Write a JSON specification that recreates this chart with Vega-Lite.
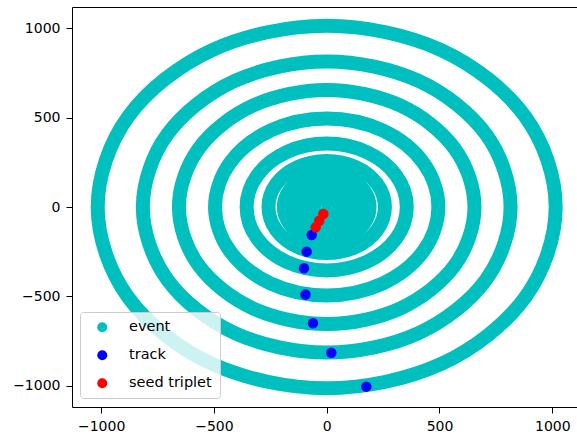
{
  "$schema": "https://vega.github.io/schema/vega-lite/v6.json",
  "width": 505,
  "height": 400,
  "autosize": "none",
  "padding": {"left": 72, "top": 7, "right": 0, "bottom": 34},
  "background": "white",
  "config": {
    "view": {"stroke": null},
    "axis": {
      "grid": false,
      "domainColor": "#000000",
      "domainWidth": 1,
      "tickColor": "#000000",
      "tickSize": 6,
      "labelFont": "DejaVu Sans",
      "labelFontSize": 14,
      "labelColor": "#000000",
      "labelPadding": 6,
      "labelFlush": false,
      "labelOverlap": false
    }
  },
  "datasets": {
    "rings": [
      {"ring": 1, "i": 0, "x": 1015, "y": 0}, {"ring": 1, "i": 1, "x": 879, "y": 507.5}, {"ring": 1, "i": 2, "x": 507.5, "y": 879}, {"ring": 1, "i": 3, "x": 0, "y": 1015}, {"ring": 1, "i": 4, "x": -507.5, "y": 879}, {"ring": 1, "i": 5, "x": -879, "y": 507.5}, {"ring": 1, "i": 6, "x": -1015, "y": 0}, {"ring": 1, "i": 7, "x": -879, "y": -507.5}, {"ring": 1, "i": 8, "x": -507.5, "y": -879}, {"ring": 1, "i": 9, "x": 0, "y": -1015}, {"ring": 1, "i": 10, "x": 507.5, "y": -879}, {"ring": 1, "i": 11, "x": 879, "y": -507.5},
      {"ring": 2, "i": 0, "x": 815, "y": 0}, {"ring": 2, "i": 1, "x": 705.8, "y": 407.5}, {"ring": 2, "i": 2, "x": 407.5, "y": 705.8}, {"ring": 2, "i": 3, "x": 0, "y": 815}, {"ring": 2, "i": 4, "x": -407.5, "y": 705.8}, {"ring": 2, "i": 5, "x": -705.8, "y": 407.5}, {"ring": 2, "i": 6, "x": -815, "y": 0}, {"ring": 2, "i": 7, "x": -705.8, "y": -407.5}, {"ring": 2, "i": 8, "x": -407.5, "y": -705.8}, {"ring": 2, "i": 9, "x": 0, "y": -815}, {"ring": 2, "i": 10, "x": 407.5, "y": -705.8}, {"ring": 2, "i": 11, "x": 705.8, "y": -407.5},
      {"ring": 3, "i": 0, "x": 655, "y": 0}, {"ring": 3, "i": 1, "x": 567.2, "y": 327.5}, {"ring": 3, "i": 2, "x": 327.5, "y": 567.2}, {"ring": 3, "i": 3, "x": 0, "y": 655}, {"ring": 3, "i": 4, "x": -327.5, "y": 567.2}, {"ring": 3, "i": 5, "x": -567.2, "y": 327.5}, {"ring": 3, "i": 6, "x": -655, "y": 0}, {"ring": 3, "i": 7, "x": -567.2, "y": -327.5}, {"ring": 3, "i": 8, "x": -327.5, "y": -567.2}, {"ring": 3, "i": 9, "x": 0, "y": -655}, {"ring": 3, "i": 10, "x": 327.5, "y": -567.2}, {"ring": 3, "i": 11, "x": 567.2, "y": -327.5},
      {"ring": 4, "i": 0, "x": 495, "y": 0}, {"ring": 4, "i": 1, "x": 428.7, "y": 247.5}, {"ring": 4, "i": 2, "x": 247.5, "y": 428.7}, {"ring": 4, "i": 3, "x": 0, "y": 495}, {"ring": 4, "i": 4, "x": -247.5, "y": 428.7}, {"ring": 4, "i": 5, "x": -428.7, "y": 247.5}, {"ring": 4, "i": 6, "x": -495, "y": 0}, {"ring": 4, "i": 7, "x": -428.7, "y": -247.5}, {"ring": 4, "i": 8, "x": -247.5, "y": -428.7}, {"ring": 4, "i": 9, "x": 0, "y": -495}, {"ring": 4, "i": 10, "x": 247.5, "y": -428.7}, {"ring": 4, "i": 11, "x": 428.7, "y": -247.5},
      {"ring": 5, "i": 0, "x": 355, "y": 0}, {"ring": 5, "i": 1, "x": 307.4, "y": 177.5}, {"ring": 5, "i": 2, "x": 177.5, "y": 307.4}, {"ring": 5, "i": 3, "x": 0, "y": 355}, {"ring": 5, "i": 4, "x": -177.5, "y": 307.4}, {"ring": 5, "i": 5, "x": -307.4, "y": 177.5}, {"ring": 5, "i": 6, "x": -355, "y": 0}, {"ring": 5, "i": 7, "x": -307.4, "y": -177.5}, {"ring": 5, "i": 8, "x": -177.5, "y": -307.4}, {"ring": 5, "i": 9, "x": 0, "y": -355}, {"ring": 5, "i": 10, "x": 177.5, "y": -307.4}, {"ring": 5, "i": 11, "x": 307.4, "y": -177.5},
      {"ring": 6, "i": 0, "x": 258, "y": 0}, {"ring": 6, "i": 1, "x": 223.4, "y": 129}, {"ring": 6, "i": 2, "x": 129, "y": 223.4}, {"ring": 6, "i": 3, "x": 0, "y": 258}, {"ring": 6, "i": 4, "x": -129, "y": 223.4}, {"ring": 6, "i": 5, "x": -223.4, "y": 129}, {"ring": 6, "i": 6, "x": -258, "y": 0}, {"ring": 6, "i": 7, "x": -223.4, "y": -129}, {"ring": 6, "i": 8, "x": -129, "y": -223.4}, {"ring": 6, "i": 9, "x": 0, "y": -258}, {"ring": 6, "i": 10, "x": 129, "y": -223.4}, {"ring": 6, "i": 11, "x": 223.4, "y": -129},
      {"ring": 7, "i": 0, "x": 190, "y": 0}, {"ring": 7, "i": 1, "x": 164.5, "y": 95}, {"ring": 7, "i": 2, "x": 95, "y": 164.5}, {"ring": 7, "i": 3, "x": 0, "y": 190}, {"ring": 7, "i": 4, "x": -95, "y": 164.5}, {"ring": 7, "i": 5, "x": -164.5, "y": 95}, {"ring": 7, "i": 6, "x": -190, "y": 0}, {"ring": 7, "i": 7, "x": -164.5, "y": -95}, {"ring": 7, "i": 8, "x": -95, "y": -164.5}, {"ring": 7, "i": 9, "x": 0, "y": -190}, {"ring": 7, "i": 10, "x": 95, "y": -164.5}, {"ring": 7, "i": 11, "x": 164.5, "y": -95},
      {"ring": 8, "i": 0, "x": 140, "y": 0}, {"ring": 8, "i": 1, "x": 121.2, "y": 70}, {"ring": 8, "i": 2, "x": 70, "y": 121.2}, {"ring": 8, "i": 3, "x": 0, "y": 140}, {"ring": 8, "i": 4, "x": -70, "y": 121.2}, {"ring": 8, "i": 5, "x": -121.2, "y": 70}, {"ring": 8, "i": 6, "x": -140, "y": 0}, {"ring": 8, "i": 7, "x": -121.2, "y": -70}, {"ring": 8, "i": 8, "x": -70, "y": -121.2}, {"ring": 8, "i": 9, "x": 0, "y": -140}, {"ring": 8, "i": 10, "x": 70, "y": -121.2}, {"ring": 8, "i": 11, "x": 121.2, "y": -70},
      {"ring": 9, "i": 0, "x": 95, "y": 0}, {"ring": 9, "i": 1, "x": 82.3, "y": 47.5}, {"ring": 9, "i": 2, "x": 47.5, "y": 82.3}, {"ring": 9, "i": 3, "x": 0, "y": 95}, {"ring": 9, "i": 4, "x": -47.5, "y": 82.3}, {"ring": 9, "i": 5, "x": -82.3, "y": 47.5}, {"ring": 9, "i": 6, "x": -95, "y": 0}, {"ring": 9, "i": 7, "x": -82.3, "y": -47.5}, {"ring": 9, "i": 8, "x": -47.5, "y": -82.3}, {"ring": 9, "i": 9, "x": 0, "y": -95}, {"ring": 9, "i": 10, "x": 47.5, "y": -82.3}, {"ring": 9, "i": 11, "x": 82.3, "y": -47.5},
      {"ring": 10, "i": 0, "x": 55, "y": 0}, {"ring": 10, "i": 1, "x": 47.6, "y": 27.5}, {"ring": 10, "i": 2, "x": 27.5, "y": 47.6}, {"ring": 10, "i": 3, "x": 0, "y": 55}, {"ring": 10, "i": 4, "x": -27.5, "y": 47.6}, {"ring": 10, "i": 5, "x": -47.6, "y": 27.5}, {"ring": 10, "i": 6, "x": -55, "y": 0}, {"ring": 10, "i": 7, "x": -47.6, "y": -27.5}, {"ring": 10, "i": 8, "x": -27.5, "y": -47.6}, {"ring": 10, "i": 9, "x": 0, "y": -55}, {"ring": 10, "i": 10, "x": 27.5, "y": -47.6}, {"ring": 10, "i": 11, "x": 47.6, "y": -27.5}
    ],
    "hits": [
      {"kind": "event", "x": 0, "y": 0},
      {"kind": "track", "x": -66.5, "y": -156.8},
      {"kind": "track", "x": -88.7, "y": -250},
      {"kind": "track", "x": -100.6, "y": -343},
      {"kind": "track", "x": -94, "y": -490},
      {"kind": "track", "x": -60.7, "y": -651},
      {"kind": "track", "x": 20.4, "y": -816},
      {"kind": "track", "x": 175.5, "y": -1006},
      {"kind": "seed triplet", "x": -49, "y": -114},
      {"kind": "seed triplet", "x": -33, "y": -77},
      {"kind": "seed triplet", "x": -15, "y": -39}
    ]
  },
  "layer": [
    {
      "data": {"name": "rings"},
      "mark": {"type": "line", "interpolate": "cardinal-closed", "strokeWidth": 14, "strokeJoin": "round", "color": "#00bfbf"},
      "encoding": {
        "x": {"field": "x", "type": "quantitative", "scale": {"domain": [-1129, 1109.5], "nice": false, "zero": false}, "axis": {"title": null, "orient": "bottom", "values": [-1000, -500, 0, 500, 1000], "format": "d"}},
        "y": {"field": "y", "type": "quantitative", "scale": {"domain": [-1120, 1120], "nice": false, "zero": false}, "axis": {"title": null, "orient": "left", "values": [-1000, -500, 0, 500, 1000], "format": "d"}},
        "detail": {"field": "ring", "type": "nominal"},
        "order": {"field": "i", "type": "quantitative"}
      }
    },
    {
      "data": {"name": "hits"},
      "mark": {"type": "circle", "size": 110, "opacity": 1},
      "encoding": {
        "x": {"field": "x", "type": "quantitative", "axis": {"title": null, "orient": "top", "labels": false, "ticks": false, "domain": true}},
        "y": {"field": "y", "type": "quantitative"},
        "color": {
          "field": "kind",
          "type": "nominal",
          "scale": {"domain": ["event", "track", "seed triplet"], "range": ["#00bfbf", "#0000ff", "#ff0000"]},
          "legend": {
            "title": null,
            "orient": "none",
            "legendX": 8,
            "legendY": 305,
            "padding": 8,
            "strokeColor": "#cccccc",
            "fillColor": "rgba(255,255,255,0.8)",
            "cornerRadius": 3,
            "symbolType": "circle",
            "symbolSize": 100,
            "symbolOffset": 7,
            "labelOffset": 19.5,
            "labelFont": "DejaVu Sans",
            "labelFontSize": 14.5,
            "labelColor": "#000000",
            "rowPadding": 13
          }
        }
      }
    }
  ],
  "resolve": {"axis": {"x": "independent"}}
}
